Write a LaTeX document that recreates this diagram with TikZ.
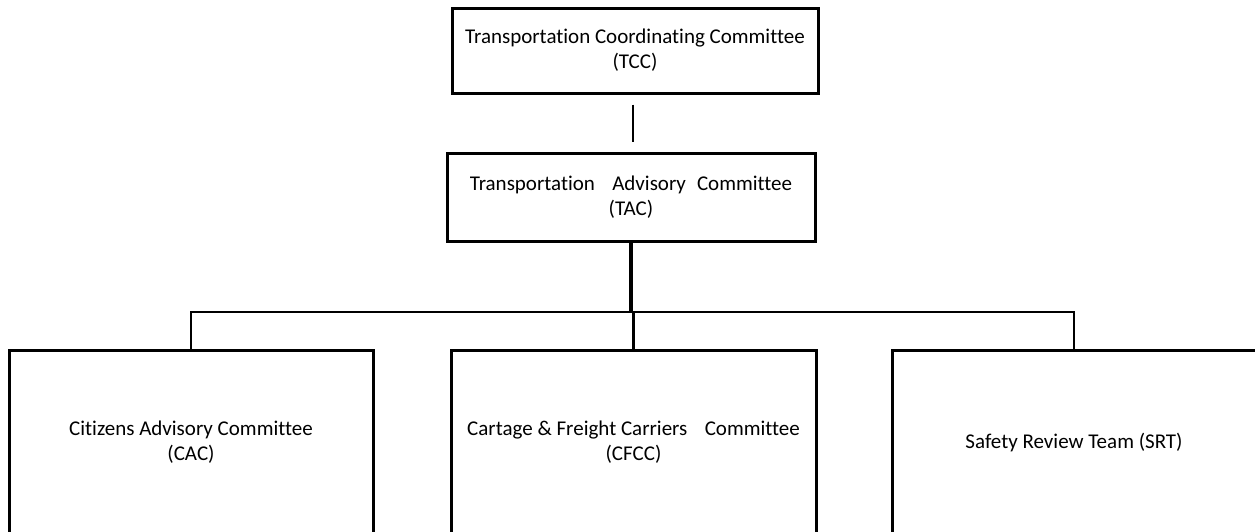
\documentclass[tikz,border=0pt]{standalone}
\usepackage{fontspec}
\setmainfont[Ligatures=NoCommon]{Carlito}
\begin{document}
\begin{tikzpicture}[x=1pt,y=-1pt,
  box/.style={draw=black, line width=3pt, fill=white, align=center, inner sep=0pt,
    font=\fontsize{21}{25}\selectfont},
  thinline/.style={line width=2pt},
  trunk/.style={line width=3.5pt},
  branch/.style={line width=2.8pt}]
\useasboundingbox (0,0) rectangle (1255,531);
\clip (0,0) rectangle (1255,531);
\fill[white] (0,0) rectangle (1255,531);
\node[box, minimum width=366pt, minimum height=85pt] (tcc) at (635,50.5)
  {Transportation Coordinating Committee\\(TCC)};
\node[box, minimum width=368pt, minimum height=88pt] (tac) at (631,197)
  {Transportation\hspace{0.6em} Advisory\hspace{0.3em} Committee\\(TAC)};
\node[box, minimum width=364pt, minimum height=185pt] (cac) at (191,442.5)
  {Citizens Advisory Committee\\(CAC)};
\node[box, minimum width=365pt, minimum height=185pt] (cfcc) at (633.5,442.5)
  {Cartage \& Freight Carriers\hspace{0.6em} Committee\\(CFCC)};
\node[box, minimum width=364pt, minimum height=185pt] (srt) at (1074,442.5)
  {Safety Review Team (SRT)};
\coordinate (j) at (631,312);
\draw[thinline, shorten <=10pt, shorten >=10pt] ([xshift=-2pt]tcc.south) -- ([xshift=2pt]tac.north);
\draw[trunk] (tac.south) -- (j);
\draw[branch] (cac.north) |- (j) -| (srt.north);
\draw[branch] (j) -| (cfcc.north);
\end{tikzpicture}
\end{document}
